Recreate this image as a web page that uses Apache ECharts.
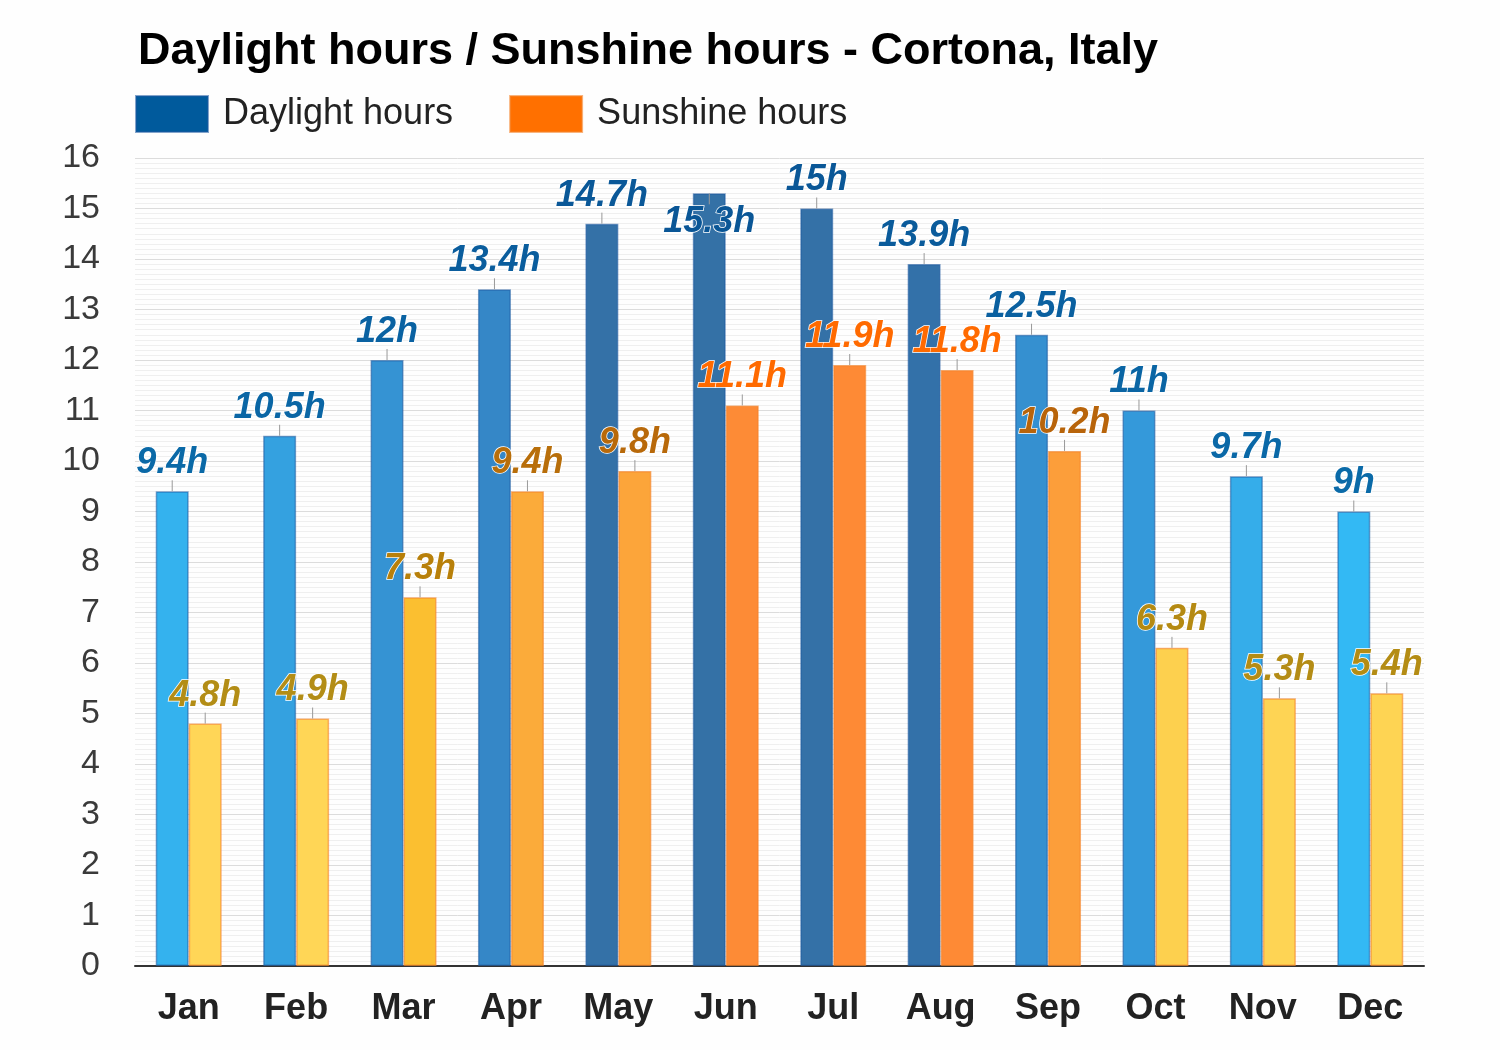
<!DOCTYPE html>
<html>
<head>
<meta charset="utf-8">
<script src="https://cdn.jsdelivr.net/npm/echarts@6/dist/echarts.min.js"></script>
<style>
html,body{margin:0;padding:0;background:#fefefe;}
#chart{width:1500px;height:1050px;}
</style>
</head>
<body>
<div id="chart"></div>
<script>
const months = ['Jan','Feb','Mar','Apr','May','Jun','Jul','Aug','Sep','Oct','Nov','Dec'];
const daylight = [9.4, 10.5, 12, 13.4, 14.7, 15.3, 15, 13.9, 12.5, 11, 9.7, 9];
const sunshine = [4.8, 4.9, 7.3, 9.4, 9.8, 11.1, 11.9, 11.8, 10.2, 6.3, 5.3, 5.4];
const yTicks = [0,1,2,3,4,5,6,7,8,9,10,11,12,13,14,15,16];

function hex(c){return [parseInt(c.substr(1,2),16),parseInt(c.substr(3,2),16),parseInt(c.substr(5,2),16)];}
function interp(stops, v){
  if (v <= stops[0][0]) return stops[0][1];
  for (let i=1;i<stops.length;i++){
    if (v <= stops[i][0]){
      const t=(v-stops[i-1][0])/(stops[i][0]-stops[i-1][0]);
      const a=hex(stops[i-1][1]), b=hex(stops[i][1]);
      return 'rgb('+a.map((x,k)=>Math.round(x+(b[k]-x)*t)).join(',')+')';
    }
  }
  return stops[stops.length-1][1];
}
const dayFill = [[9,'#33b9f4'],[9.7,'#35adea'],[11,'#3499da'],[12.5,'#3590d0'],[13.4,'#3587c7'],[13.9,'#3371a9'],[15.3,'#3471a6']];
const dayLabel = [[9,'#0a6aa8'],[12,'#0a62a2'],[15.3,'#0a5696']];
const sunFill = [[4.8,'#ffd657'],[6.3,'#fdd04e'],[7.3,'#fbbf30'],[9.4,'#fbab3a'],[10.2,'#fc9e3a'],[11.1,'#fd8b36'],[11.9,'#fe8a35']];
const sunLabel = [[4.8,'#b38d16'],[6.3,'#b58a12'],[7.3,'#b8800a'],[9.4,'#b86e0a'],[10.2,'#b8640a'],[10.6,'#e06805'],[11.1,'#ff6a00']];
const insideThreshold = 15.2;
const barW = 33;

const dayData = daylight.map(v => ({
  value: v,
  itemStyle: {color: interp(dayFill, v)},
  label: {color: interp(dayLabel, v), position: v > insideThreshold ? 'insideTop' : 'top', distance: v > insideThreshold ? 11 : 10}
}));
const sunData = sunshine.map(v => ({
  value: v,
  itemStyle: {color: interp(sunFill, v)},
  label: {color: interp(sunLabel, v)}
}));

function tickSeries(values, side){
  return {
    type: 'custom',
    z: 5,
    silent: true,
    data: values.map((v,i)=>[i,v]),
    renderItem: function(params, api){
      const p = api.coord([api.value(0), api.value(1)]);
      const x = p[0] + side*barW/2;
      const dir = api.value(1) > insideThreshold && side < 0 ? 1 : -1;
      return {type:'line', shape:{x1:x, y1:p[1], x2:x, y2:p[1]+dir*11}, style:{stroke:'#999', lineWidth:1}};
    }
  };
}

const labelBase = {
  show: true, position: 'top', distance: 10,
  fontSize: 36, fontWeight: 'bold', fontStyle: 'italic', fontFamily: 'Liberation Sans, Arial, sans-serif',
  textBorderColor: '#ffffff', textBorderWidth: 1.5,
  formatter: p => p.value + 'h'
};

const chart = echarts.init(document.getElementById('chart'));
chart.setOption({
  backgroundColor: '#fefefe',
  animation: false,
  title: {
    text: 'Daylight hours / Sunshine hours - Cortona, Italy',
    left: 133, top: 24,
    textStyle: {fontSize: 45, fontWeight: 'bold', color: '#000', fontFamily: 'Liberation Sans, Arial, sans-serif'}
  },
  legend: {
    left: 135, top: 95, padding: 0,
    itemWidth: 72, itemHeight: 36, itemGap: 56,
    icon: 'rect',
    textStyle: {fontSize: 36, color: '#222', fontFamily: 'Liberation Sans, Arial, sans-serif', padding: [0,0,0,10]},
    data: [
      {name: 'Daylight hours', itemStyle: {color: '#005a9c'}},
      {name: 'Sunshine hours', itemStyle: {color: '#ff7000'}}
    ]
  },
  grid: {left: 135, right: 76, top: 158, bottom: 84},
  xAxis: {
    type: 'category', data: months,
    axisLine: {lineStyle: {color: '#333', width: 2}},
    axisTick: {show: false},
    axisLabel: {fontSize: 36, fontWeight: 'bold', color: '#222', margin: 25, fontFamily: 'Liberation Sans, Arial, sans-serif'}
  },
  yAxis: {
    type: 'value', min: yTicks[0], max: yTicks[yTicks.length-1], interval: 1,
    axisLine: {show: false}, axisTick: {show: false},
    axisLabel: {fontSize: 34, color: '#3a3a3a', margin: 35, fontFamily: 'Liberation Sans, Arial, sans-serif'},
    splitLine: {lineStyle: {color: '#dcdcdc', width: 1}},
    minorTick: {show: false, splitNumber: 10},
    minorSplitLine: {show: true, lineStyle: {color: '#efefef', width: 1}}
  },
  series: [
    {
      name: 'Daylight hours', type: 'bar', barWidth: barW, barGap: '0%',
      itemStyle: {borderColor: 'rgba(30,90,160,0.55)', borderWidth: 1.5},
      label: labelBase,
      data: dayData
    },
    {
      name: 'Sunshine hours', type: 'bar', barWidth: barW, barGap: '0%',
      itemStyle: {borderColor: 'rgba(245,130,40,0.6)', borderWidth: 1.5},
      label: labelBase,
      data: sunData
    },
    tickSeries(daylight, -1),
    tickSeries(sunshine, 1)
  ]
});
</script>
</body>
</html>
